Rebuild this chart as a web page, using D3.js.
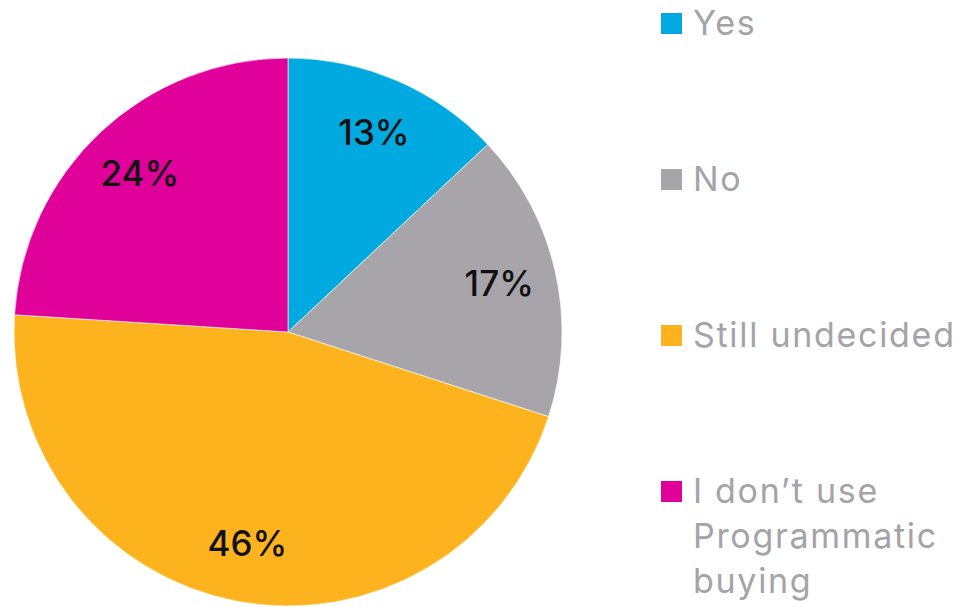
<!DOCTYPE html>
<html>
<head>
<meta charset="utf-8">
<script src="https://cdn.jsdelivr.net/npm/d3@7"></script>
<style>
  html, body { margin: 0; padding: 0; background: #fff; }
  svg { display: block; }
</style>
</head>
<body>
<svg id="chart" width="975" height="607"></svg>
<script>
// Survey answers and their shares (percent)
const categories = ["Yes", "No", "Still undecided", "I don’t use Programmatic buying"];
const values = [13, 17, 46, 24];
const colors = ["#00a9e0", "#a7a5aa", "#fdb31d", "#e0009a"];
// Legend text, split into drawn lines
const legendLines = [["Yes"], ["No"], ["Still undecided"], ["I don’t use", "Programmatic", "buying"]];

const svg = d3.select("#chart");

const cx = 288, cy = 332, radius = 274;
const labelRadius = radius * 0.79;

const data = categories.map((c, i) => ({ category: c, value: values[i], color: colors[i] }));

const pie = d3.pie()
  .value(d => d.value)
  .sort(null)
  .startAngle(0)
  .endAngle(2 * Math.PI);

const arc = d3.arc().innerRadius(0).outerRadius(radius);
const labelArc = d3.arc().innerRadius(labelRadius).outerRadius(labelRadius);

const g = svg.append("g").attr("transform", `translate(${cx},${cy})`);
const arcs = pie(data);

g.selectAll("path.slice")
  .data(arcs)
  .join("path")
  .attr("class", "slice")
  .attr("d", arc)
  .attr("fill", d => d.data.color)
  .attr("stroke", "#ffffff")
  .attr("stroke-opacity", 0.6)
  .attr("stroke-width", 1);

g.selectAll("text.pct")
  .data(arcs)
  .join("text")
  .attr("class", "pct")
  .attr("transform", d => `translate(${labelArc.centroid(d)})`)
  .attr("text-anchor", "middle")
  .attr("dy", "0.33em")
  .attr("font-family", "Inter, 'Open Sans', sans-serif")
  .attr("font-size", 35)
  .attr("font-weight", 500)
  .attr("fill", "#111")
  .text(d => d.data.value + "%");

// Legend
const legendX = 661, legendTop = 35, rowGap = 156, lineGap = 45;
const legend = svg.append("g");
const rows = legend.selectAll("g.row")
  .data(data)
  .join("g")
  .attr("class", "row")
  .attr("transform", (d, i) => `translate(${legendX},${legendTop + i * rowGap})`);

rows.append("rect")
  .attr("x", 0)
  .attr("y", -22)
  .attr("width", 21)
  .attr("height", 21)
  .attr("fill", d => d.color);

rows.append("text")
  .attr("font-family", "Inter, 'Open Sans', sans-serif")
  .attr("font-size", 34)
  .attr("letter-spacing", 1.7)
  .attr("fill", "#a5a3a8")
  .selectAll("tspan")
  .data((d, i) => legendLines[i])
  .join("tspan")
  .attr("x", 32)
  .attr("y", (t, j) => j * lineGap)
  .text(t => t);
</script>
</body>
</html>
